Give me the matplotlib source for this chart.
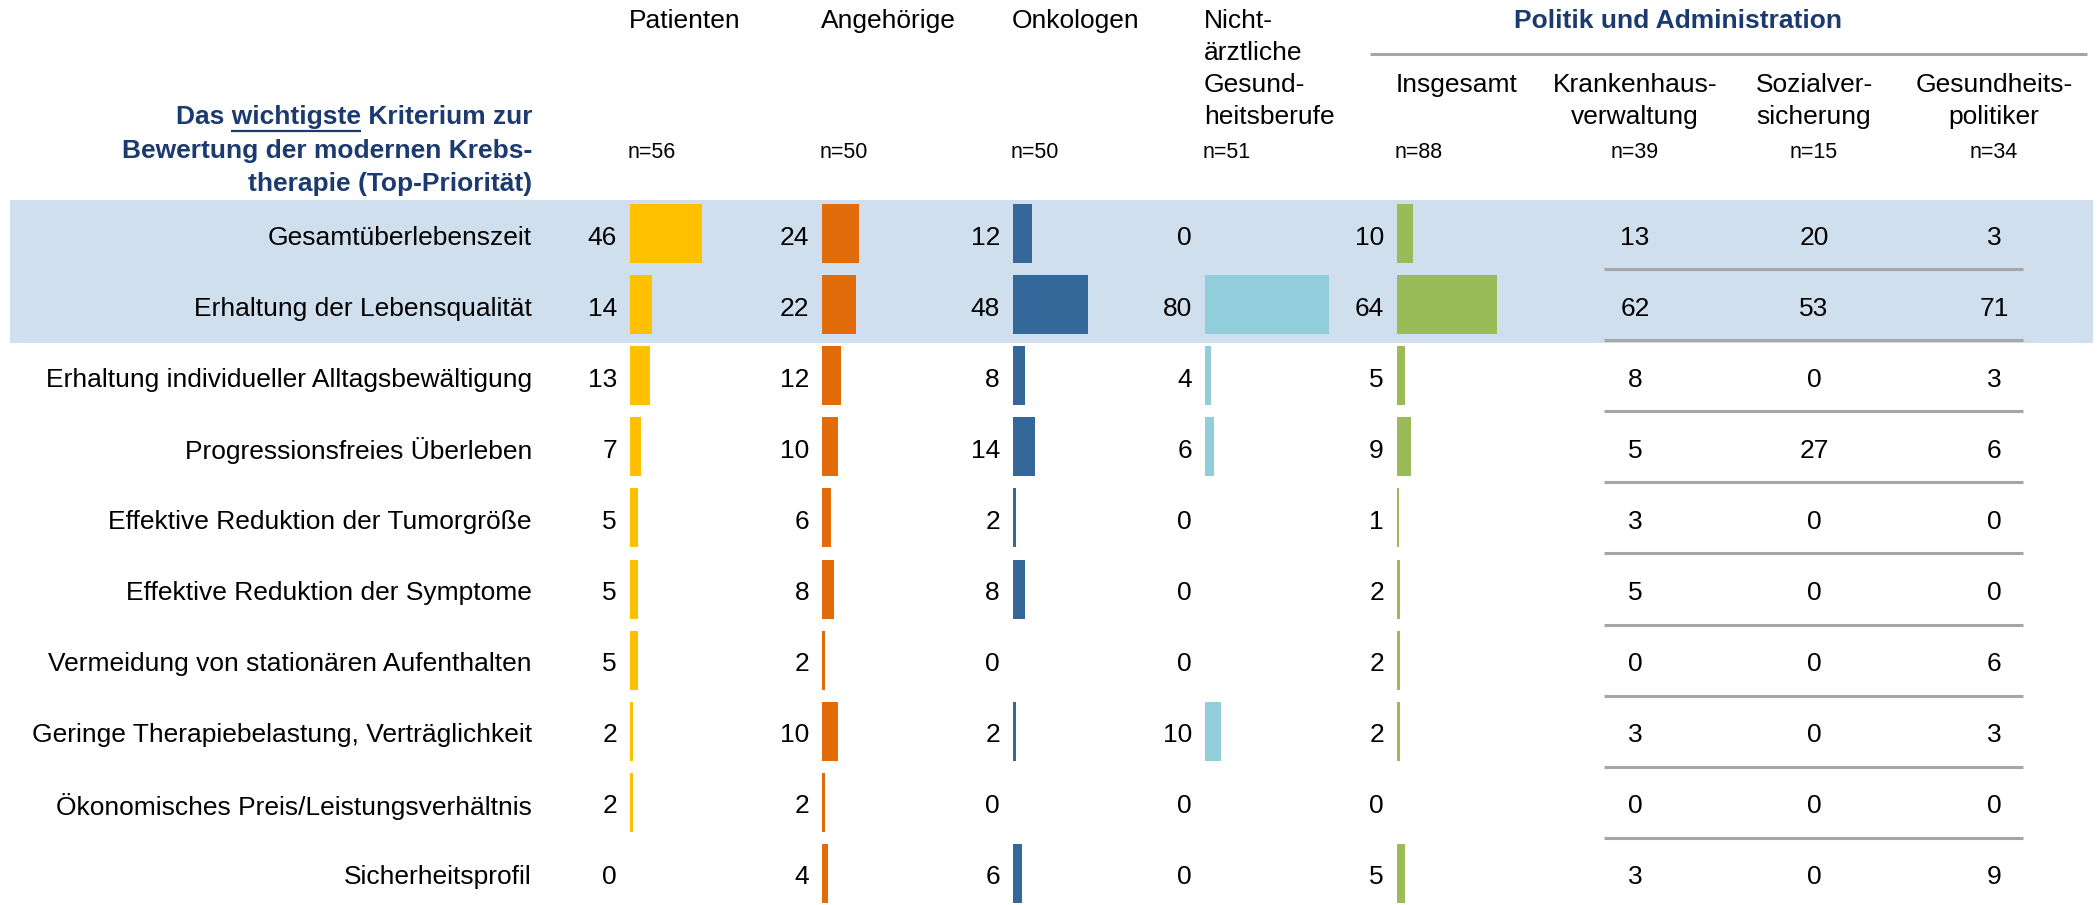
import numpy as np
import matplotlib
matplotlib.use("Agg")
import matplotlib.pyplot as plt
from matplotlib.patches import Rectangle

plt.rcParams['font.family'] = ['Liberation Sans', 'DejaVu Sans']

# ---- data ----
criteria = [
    "Gesamtüberlebenszeit",
    "Erhaltung der Lebensqualität",
    "Erhaltung individueller Alltagsbewältigung",
    "Progressionsfreies Überleben",
    "Effektive Reduktion der Tumorgröße",
    "Effektive Reduktion der Symptome",
    "Vermeidung von stationären Aufenthalten",
    "Geringe Therapiebelastung, Verträglichkeit",
    "Ökonomisches Preis/Leistungsverhältnis",
    "Sicherheitsprofil",
]
patienten = [46, 14, 13, 7, 5, 5, 5, 2, 2, 0]
angehoerige = [24, 22, 12, 10, 6, 8, 2, 10, 2, 4]
onkologen = [12, 48, 8, 14, 2, 8, 0, 2, 0, 6]
nicht_aerztl = [0, 80, 4, 6, 0, 0, 0, 10, 0, 0]
insgesamt = [10, 64, 5, 9, 1, 2, 2, 2, 0, 5]
krankenhaus = [13, 62, 8, 5, 3, 5, 0, 3, 0, 3]
sozialvers = [20, 53, 0, 27, 0, 0, 0, 0, 0, 0]
gesundheitspol = [3, 71, 3, 6, 0, 0, 6, 3, 0, 9]

bar_headers = [["Patienten"], ["Angehörige"], ["Onkologen"],
               ["Nicht-", "ärztliche", "Gesund-", "heitsberufe"], ["Insgesamt"]]
bar_n = [56, 50, 50, 51, 88]
table_headers = [["Krankenhaus-", "verwaltung"], ["Sozialver-", "sicherung"],
                 ["Gesundheits-", "politiker"]]
table_n = [39, 15, 34]

# ---- layout (pixel space) ----
W, H = 2098, 905
ROW0, DY = 233.5, 71.1
BAR_H = 59
PX_PER_UNIT = 1.555
bar_lefts = [630, 822, 1013, 1205, 1397]
bar_colors = ['#FFC000', '#E36C0A', '#34679A', '#92CDDC', '#9BBB59']
table_x = [1635, 1814, 1994]
LABEL_RIGHT = 532
TXT_DY = 4          # text sits slightly below bar centre
FS = 19
FS_N = 15.5
BLUE = '#1B3A6F'
GRAY = '#A6A6A6'

fig = plt.figure(figsize=(W / 100, H / 100), dpi=100)
ax = fig.add_axes([0, 0, 1, 1])
ax.set_xlim(0, W)
ax.set_ylim(H, 0)
ax.axis('off')

rows = ROW0 + DY * np.arange(len(criteria))

# highlighted top-priority band
ax.add_patch(Rectangle((10, rows[0] - DY / 2 + 2), 2083, DY * 2 + 1,
                       facecolor='#D0DFEE', edgecolor='none', zorder=0))

# row labels
for y, lab in zip(rows, criteria):
    ax.text(LABEL_RIGHT, y + TXT_DY, lab, ha='right', va='center', fontsize=FS)

# bar columns
bar_series = [patienten, angehoerige, onkologen, nicht_aerztl, insgesamt]
for x0, vals, col, head, n in zip(bar_lefts, bar_series, bar_colors, bar_headers, bar_n):
    vals = np.array(vals)
    ax.barh(rows, vals * PX_PER_UNIT, left=x0, height=BAR_H, color=col,
            edgecolor='none', zorder=2)
    for y, v in zip(rows, vals):
        ax.text(x0 - 13, y + TXT_DY, str(v), ha='right', va='center', fontsize=FS)
    if len(head) == 1:
        ys = [21] if head[0] != "Insgesamt" else [85]
    else:
        ys = [21, 53, 85, 117]
    for yy, line in zip(ys, head):
        ax.text(x0 - 1, yy, line, ha='left', va='center', fontsize=FS)
    ax.text(x0 - 2, 152, f"n={n}", ha='left', va='center', fontsize=FS_N)

# table columns (Politik und Administration subgroups)
for xc, vals, head, n in zip(table_x, [krankenhaus, sozialvers, gesundheitspol],
                             table_headers, table_n):
    for y, v in zip(rows, vals):
        ax.text(xc, y + TXT_DY, str(v), ha='center', va='center', fontsize=FS)
    for yy, line in zip([85, 117], head):
        ax.text(xc, yy, line, ha='center', va='center', fontsize=FS)
    ax.text(xc, 152, f"n={n}", ha='center', va='center', fontsize=FS_N)

# separators between table rows
for y in rows[:-1] + DY / 2:
    ax.plot([1604, 2023], [y, y], color=GRAY, lw=2.2, solid_capstyle='butt', zorder=1)

# group header
ax.text(1678, 21, "Politik und Administration", ha='center', va='center',
        fontsize=FS, fontweight='bold', color=BLUE)
ax.plot([1370, 2087], [54, 54], color=GRAY, lw=2.2, solid_capstyle='butt')

# title block
title_lines = ["Das wichtigste Kriterium zur", "Bewertung der modernen Krebs-",
               "therapie (Top-Priorität)"]
title_objs = []
for yy, line in zip([117, 151, 184], title_lines):
    title_objs.append(ax.text(LABEL_RIGHT, yy, line, ha='right', va='center',
                              fontsize=FS, fontweight='bold', color=BLUE))

# underline "wichtigste"
fig.canvas.draw()
r = fig.canvas.get_renderer()
inv = ax.transData.inverted()
bb = title_objs[0].get_window_extent(r)
def text_w(s):
    t = ax.text(0, 0, s, fontsize=FS, fontweight='bold')
    e = t.get_window_extent(r)
    t.remove()
    return e.width
left_px = bb.x0
w_full = text_w("Das wichtigste")
w_word = text_w("wichtigste")
x_start = inv.transform((left_px + w_full - w_word, 0))[0]
x_end = inv.transform((left_px + w_full, 0))[0]
ax.plot([x_start, x_end], [131, 131], color=BLUE, lw=1.6, solid_capstyle='butt')

fig.savefig("out.png", dpi=100, facecolor='white')
